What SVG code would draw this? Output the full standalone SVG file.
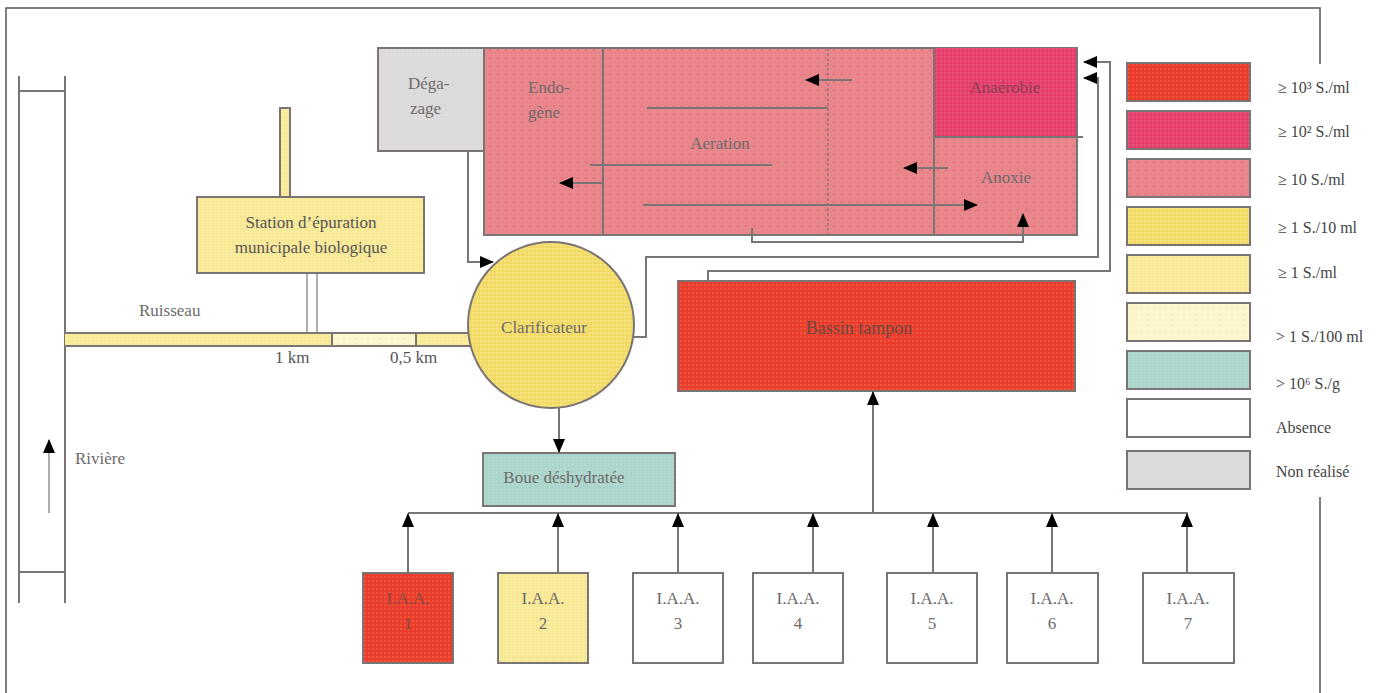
<svg xmlns="http://www.w3.org/2000/svg" width="1381" height="693" viewBox="0 0 1381 693">
<style>
text{font-family:"Liberation Serif","Times New Roman",serif;font-size:17px;fill:#6e6a6a}
.c{text-anchor:middle}
.box{stroke:#7a7474;stroke-width:2}
.ln{fill:none;stroke:#7a7474;stroke-width:2}
.thin{fill:none;stroke:#8a8282;stroke-width:1.3}
.frame{fill:none;stroke:#555;stroke-width:1.5}
.dk{fill:#444;font-size:16px}
</style>
<defs>
<marker id="ah" markerWidth="14" markerHeight="12" refX="13" refY="6" orient="auto" markerUnits="userSpaceOnUse">
<path d="M0,0 L14,6 L0,12 Z" fill="#000"/>
</marker>
<pattern id="pRed" width="4" height="4" patternUnits="userSpaceOnUse">
<rect width="4" height="4" fill="#ec3f2e"/><circle cx="1" cy="1" r="0.7" fill="#f57a50"/><circle cx="3" cy="3" r="0.6" fill="#d8282a"/>
</pattern>
<pattern id="pMag" width="4" height="4" patternUnits="userSpaceOnUse">
<rect width="4" height="4" fill="#e6426e"/><circle cx="1" cy="1" r="0.7" fill="#f06a8a"/><circle cx="3" cy="3" r="0.6" fill="#d81e58"/>
</pattern>
<pattern id="pPink" width="8" height="8" patternUnits="userSpaceOnUse">
<rect width="8" height="8" fill="#e8868c"/><circle cx="2" cy="2" r="0.6" fill="#d83a60"/><circle cx="6" cy="6" r="0.5" fill="#ef9aa0"/>
</pattern>
<pattern id="pYel" width="4" height="4" patternUnits="userSpaceOnUse">
<rect width="4" height="4" fill="#f4dc6a"/><circle cx="1" cy="1" r="0.7" fill="#fbf0a8"/><circle cx="3" cy="3" r="0.6" fill="#e8c850"/>
</pattern>
<pattern id="pLY" width="4" height="4" patternUnits="userSpaceOnUse">
<rect width="4" height="4" fill="#f9eb9c"/><circle cx="1" cy="1" r="0.6" fill="#f0d070"/>
</pattern>
<pattern id="pCr" width="6" height="6" patternUnits="userSpaceOnUse">
<rect width="6" height="6" fill="#fdf6cf"/><circle cx="2" cy="2" r="0.6" fill="#eedc9a"/>
</pattern>
<pattern id="pTeal" width="4" height="4" patternUnits="userSpaceOnUse">
<rect width="4" height="4" fill="#a9d5cd"/><circle cx="1" cy="1" r="0.6" fill="#e6ecc8"/>
</pattern>
<pattern id="pGray" width="4" height="4" patternUnits="userSpaceOnUse">
<rect width="4" height="4" fill="#dddbdb"/><circle cx="1" cy="1" r="0.6" fill="#cfcccc"/>
</pattern>
</defs>

<g id="frame">
<path class="frame" d="M6,693 V8 H1320 V64"/>
<path class="frame" d="M1320,497 V693"/>
</g>

<g id="riviere">
<path class="ln" d="M19,76 V603 M65,76 V603 M19,91 H65 M19,572 H65"/>
<path class="thin" d="M49,513 V440" marker-end="url(#ah)"/>
<text x="75" y="464">Rivière</text>
</g>

<g id="ruisseau">
<rect x="65" y="333" width="267" height="13" fill="url(#pLY)"/>
<rect x="332" y="333" width="84" height="13" fill="url(#pCr)"/>
<rect x="416" y="333" width="56" height="13" fill="url(#pLY)"/>
<path class="ln" d="M65,333 H472 M65,346 H472 M332,333 V346 M416,333 V346"/>
<text x="139" y="316">Ruisseau</text>
<text x="275" y="363" style="fill:#555">1 km</text>
<text x="390" y="363" style="fill:#555">0,5 km</text>
</g>

<g id="station">
<rect x="280" y="108" width="10" height="89" fill="url(#pLY)" class="box"/>
<path class="thin" d="M307,273 V333 M317,273 V333"/>
<rect x="197" y="197" width="227" height="76" fill="url(#pLY)" class="box"/>
<text class="c" x="311" y="228" style="fill:#555">Station d’épuration</text>
<text class="c" x="311" y="253" style="fill:#555">municipale biologique</text>
</g>

<g id="degazage">
<rect x="378" y="48" width="106" height="103" fill="url(#pGray)" class="box"/>
<text x="408" y="89">Déga-</text>
<text x="410" y="114">zage</text>
</g>

<g id="bassin-biologique">
<rect x="484" y="48" width="593" height="187" fill="url(#pPink)" class="box"/>
<rect x="934" y="48" width="143" height="89" fill="url(#pMag)"/>
<path class="ln" d="M603,48 V235 M934,48 V235 M934,137 H1083"/>
<path d="M828,48 V235" fill="none" stroke="#8a7276" stroke-width="1.2" stroke-dasharray="3,2"/>
<path class="ln" d="M1077,48 V235"/>
<text x="528" y="93">Endo-</text>
<text x="528" y="118">gène</text>
<text class="c" x="720" y="149">Aeration</text>
<text class="c" x="1005" y="93" style="fill:#8a4058">Anaérobie</text>
<text class="c" x="1006" y="183">Anoxie</text>
</g>

<g id="clarificateur">
<circle cx="551" cy="325" r="83" fill="url(#pYel)" class="box"/>
<text class="c" x="544" y="333">Clarificateur</text>
</g>

<g id="boue">
<rect x="483" y="453" width="192" height="53" fill="url(#pTeal)" class="box"/>
<text class="c" x="564" y="483">Boue déshydratée</text>
</g>

<g id="bassin-tampon">
<rect x="678" y="281" width="397" height="110" fill="url(#pRed)" class="box"/>
<text class="c" x="859" y="334" style="fill:#6a4a40;font-size:18px">Bassin tampon</text>
</g>

<g id="iaa1"><rect x="363" y="573" width="90" height="90" fill="url(#pRed)" class="box"/><text class="c" x="408" y="604" style="fill:#8a4a40">I.A.A.</text><text class="c" x="408" y="629" style="fill:#8a4a40">1</text></g>
<g id="iaa2"><rect x="498" y="573" width="90" height="90" fill="url(#pLY)" class="box"/><text class="c" x="543" y="604">I.A.A.</text><text class="c" x="543" y="629">2</text></g>
<g id="iaa3"><rect x="633" y="573" width="90" height="90" fill="#fff" class="box"/><text class="c" x="678" y="604">I.A.A.</text><text class="c" x="678" y="629">3</text></g>
<g id="iaa4"><rect x="753" y="573" width="90" height="90" fill="#fff" class="box"/><text class="c" x="798" y="604">I.A.A.</text><text class="c" x="798" y="629">4</text></g>
<g id="iaa5"><rect x="887" y="573" width="90" height="90" fill="#fff" class="box"/><text class="c" x="932" y="604">I.A.A.</text><text class="c" x="932" y="629">5</text></g>
<g id="iaa6"><rect x="1007" y="573" width="91" height="90" fill="#fff" class="box"/><text class="c" x="1052" y="604">I.A.A.</text><text class="c" x="1052" y="629">6</text></g>
<g id="iaa7"><rect x="1143" y="573" width="91" height="90" fill="#fff" class="box"/><text class="c" x="1188" y="604">I.A.A.</text><text class="c" x="1188" y="629">7</text></g>

<g id="connectors">
<path class="ln" d="M468,151 V262 H493" marker-end="url(#ah)"/>
<path class="ln" d="M559,408 V452" marker-end="url(#ah)"/>
<path class="ln" d="M634,337 H646 V257 H1098 V78 H1084" marker-end="url(#ah)"/>
<path class="ln" d="M708,281 V271 H1110 V62 H1084" marker-end="url(#ah)"/>
<path class="ln" d="M752,228 V242 H1023 V214" marker-end="url(#ah)"/>
<path class="ln" d="M852,80 H806" marker-end="url(#ah)"/>
<path class="ln" d="M948,168 H904" marker-end="url(#ah)"/>
<path class="ln" d="M603,183 H560" marker-end="url(#ah)"/>
<path class="ln" d="M643,205 H977" marker-end="url(#ah)"/>
<path class="ln" d="M647,108 H828 M590,165 H772"/>
<path class="ln" d="M408,513 H1188"/>
<path class="ln" d="M873,513 V392" marker-end="url(#ah)"/>
<path class="ln" d="M408,573 V514" marker-end="url(#ah)"/>
<path class="ln" d="M558,573 V514" marker-end="url(#ah)"/>
<path class="ln" d="M678,573 V514" marker-end="url(#ah)"/>
<path class="ln" d="M813,573 V514" marker-end="url(#ah)"/>
<path class="ln" d="M933,573 V514" marker-end="url(#ah)"/>
<path class="ln" d="M1052,573 V514" marker-end="url(#ah)"/>
<path class="ln" d="M1187,573 V514" marker-end="url(#ah)"/>
</g>

<g id="legende">
<rect x="1127" y="63" width="123" height="38" fill="url(#pRed)" class="box"/>
<rect x="1127" y="111" width="123" height="38" fill="url(#pMag)" class="box"/>
<rect x="1127" y="159" width="123" height="38" fill="url(#pPink)" class="box"/>
<rect x="1127" y="207" width="123" height="38" fill="url(#pYel)" class="box"/>
<rect x="1127" y="255" width="123" height="38" fill="url(#pLY)" class="box"/>
<rect x="1127" y="303" width="123" height="38" fill="url(#pCr)" class="box"/>
<rect x="1127" y="351" width="123" height="38" fill="url(#pTeal)" class="box"/>
<rect x="1127" y="399" width="123" height="38" fill="#fff" class="box"/>
<rect x="1127" y="451" width="123" height="38" fill="url(#pGray)" class="box"/>
<text x="1278" y="93" class="dk">≥ 10³ S./ml</text>
<text x="1278" y="137" class="dk">≥ 10² S./ml</text>
<text x="1278" y="185" class="dk">≥ 10 S./ml</text>
<text x="1278" y="233" class="dk">≥ 1 S./10 ml</text>
<text x="1278" y="278" class="dk">≥ 1 S./ml</text>
<text x="1276" y="342" class="dk">&gt; 1 S./100 ml</text>
<text x="1276" y="389" class="dk">&gt; 10⁶ S./g</text>
<text x="1276" y="433" class="dk">Absence</text>
<text x="1276" y="477" class="dk">Non réalisé</text>
</g>
</svg>
